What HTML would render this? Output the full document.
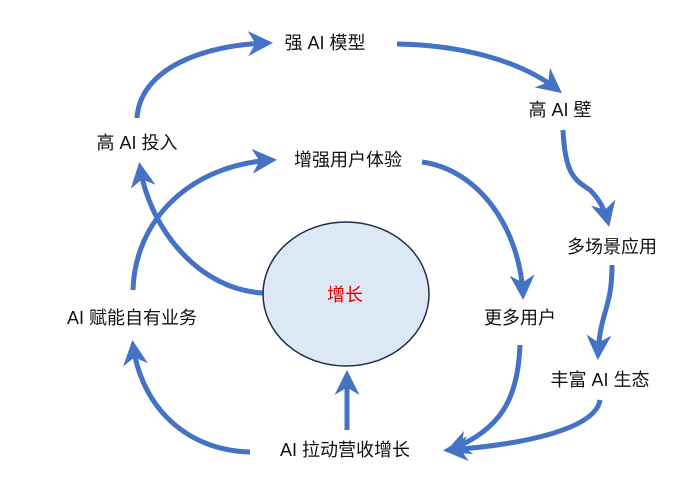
<!DOCTYPE html>
<html><head><meta charset="utf-8"><style>
body{margin:0;background:#fff;}
svg{display:block}
text{font-family:"Liberation Sans","Noto Sans CJK SC",sans-serif;font-size:18px;fill:#111;text-anchor:middle;dominant-baseline:central}
</style></head><body>
<svg width="700" height="497" viewBox="0 0 700 497">
<defs>
<marker id="a" viewBox="0 0 20 20" refX="16" refY="10" markerWidth="5" markerHeight="5" orient="auto" markerUnits="strokeWidth">
<path d="M0,0 L20,10 L0,20 L6,10 Z" fill="#4472C4"/>
</marker>
</defs>
<g fill="none" stroke="#4472C4" stroke-width="5" marker-end="url(#a)">
<path d="M137,118 C140,70 200,45 268,43"/>
<path d="M397,44 C460,45 520,60 558,90"/>
<path d="M563,130 C565,175 575,180 590,190 C600,200 605,210 608,222"/>
<path d="M612,265 C612,310 600,310 598,355"/>
<path d="M600,400 C595,430 520,445 448,450"/>
<path d="M520,345 C518,400 500,430 450,450"/>
<path d="M422,162 C480,170 520,230 523,295"/>
<path d="M347,430 L347,375"/>
<path d="M250,452 C180,450 140,400 133,345"/>
<path d="M133,290 C135,220 190,165 272,160"/>
<path d="M263,293 C200,290 150,230 140,167"/>
</g>
<ellipse cx="346" cy="294" rx="83" ry="72" fill="#DDE8F5" stroke="#1F2E4A" stroke-width="1.5"/>
<text x="345" y="295" style="fill:#E00000">增长</text>
<text x="325" y="43">强 AI 模型</text>
<text x="560" y="110">高 AI 壁</text>
<text x="137" y="143">高 AI 投入</text>
<text x="348" y="160">增强用户体验</text>
<text x="612" y="247">多场景应用</text>
<text x="520" y="318">更多用户</text>
<text x="132" y="318">AI 赋能自有业务</text>
<text x="600" y="380">丰富 AI 生态</text>
<text x="345" y="450">AI 拉动营收增长</text>
</svg>
</body></html>
